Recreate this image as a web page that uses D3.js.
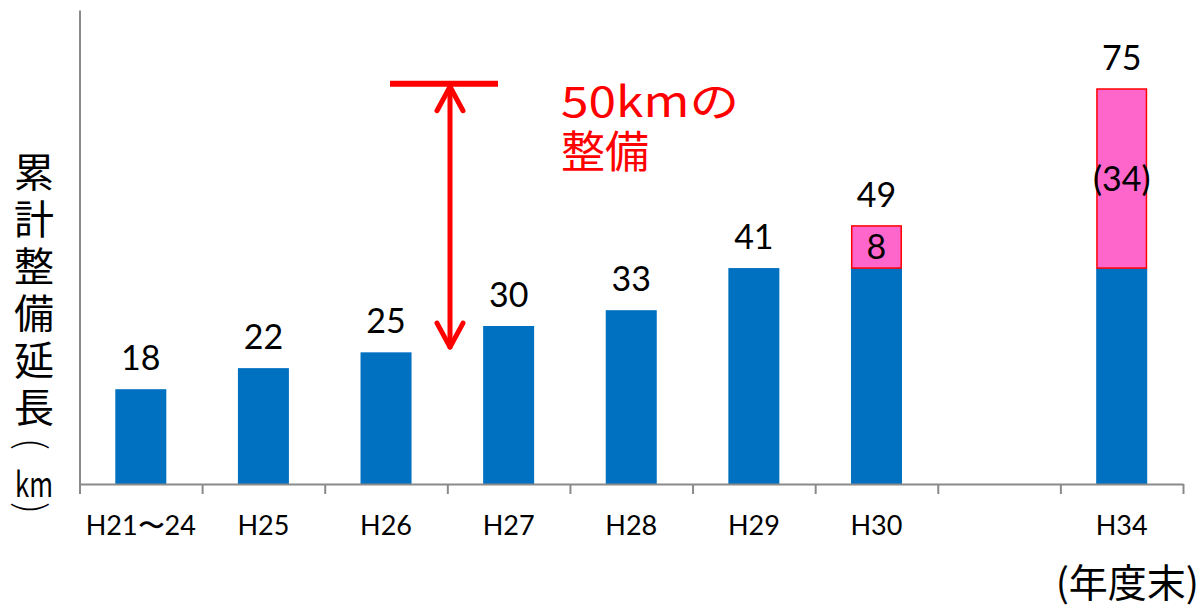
<!DOCTYPE html>
<html>
<head>
<meta charset="utf-8">
<script src="https://cdn.jsdelivr.net/npm/d3@7"></script>
<style>
  html, body { margin: 0; padding: 0; background: #fff; }
  svg { display: block; }
  .num { font-family: Lato, "Noto Sans", sans-serif; fill: #000; }
  .jp { font-family: "Noto Sans CJK JP", sans-serif; }
  .vert { writing-mode: vertical-rl; text-orientation: upright; letter-spacing: 7px; }
</style>
</head>
<body>
<svg id="chart" width="1200" height="608"></svg>
<script>
// Cumulative length of the developed network (km) by fiscal year end
const categories = ["H21〜24", "H25", "H26", "H27", "H28", "H29", "H30", "", "H34"];
const builtKm    = [18, 22, 25, 30, 33, 41, 41, null, 41];
const plannedKm  = [0, 0, 0, 0, 0, 0, 8, null, 34];
const totalLabels   = ["18", "22", "25", "30", "33", "41", "49", "", "75"];
const plannedLabels = ["", "", "", "", "", "", "8", "", "(34)"];
const yMax = 90;

// Annotation: span of the planned 50 km of development
const spanFrom = 26, spanTo = 76;
const spanText = ["50kmの", "整備"];

const yTitleText = "累計整備延長";
const yTitleUnit = "km";
const xTitle = "(年度末)";

const svg = d3.select("#chart");
const plotLeft = 79.5, plotRight = 1183, plotBottom = 484, plotTop = 10;

const x = d3.scaleBand().domain(categories).range([plotLeft, plotRight])
  .paddingInner(0.584).paddingOuter(0.292);
const slot = d3.scaleLinear().domain([0, categories.length]).range([plotLeft, plotRight]);
const y = d3.scaleLinear().domain([0, yMax]).range([plotBottom, plotTop]);

const rows = categories.map((c, i) => ({
  c, built: builtKm[i], planned: plannedKm[i],
  total: totalLabels[i], plannedLabel: plannedLabels[i]
})).filter(d => d.built != null);

// Blue bars: developed length
svg.append("g").selectAll("rect").data(rows).join("rect")
  .attr("x", d => x(d.c)).attr("width", x.bandwidth())
  .attr("y", d => y(d.built)).attr("height", d => y(0) - y(d.built))
  .attr("fill", "#0070C0");

// Pink segments: planned additions
svg.append("g").selectAll("rect").data(rows.filter(d => d.planned > 0)).join("rect")
  .attr("x", d => x(d.c) + 0.75).attr("width", x.bandwidth() - 1.5)
  .attr("y", d => y(d.built + d.planned)).attr("height", d => y(d.built) - y(d.built + d.planned))
  .attr("fill", "#FF66CC").attr("stroke", "#FF0000").attr("stroke-width", 1.5);

// Labels inside the planned segments
svg.append("g").selectAll("text").data(rows.filter(d => d.planned > 0)).join("text")
  .attr("class", "num")
  .attr("x", d => x(d.c) + x.bandwidth() / 2)
  .attr("y", d => (y(d.built) + y(d.built + d.planned)) / 2 + 12)
  .attr("text-anchor", "middle").attr("font-size", 34)
  .text(d => d.plannedLabel);

// Total labels above the bars
svg.append("g").selectAll("text").data(rows).join("text")
  .attr("class", "num")
  .attr("x", d => x(d.c) + x.bandwidth() / 2)
  .attr("y", d => y(d.built + d.planned) - 19)
  .attr("text-anchor", "middle").attr("font-size", 34)
  .text(d => d.total);

// Axes
const xAxis = svg.append("g").attr("transform", `translate(0,${plotBottom})`)
  .call(d3.axisBottom(slot).tickValues(d3.range(categories.length + 1))
    .tickFormat("").tickSize(10).tickSizeOuter(0));
xAxis.selectAll("path, line").attr("stroke", "#8A8A8A").attr("stroke-width", 2);

const yAxis = svg.append("g").attr("transform", `translate(${plotLeft},0)`)
  .call(d3.axisLeft(y).tickValues([]).tickSizeOuter(0));
yAxis.select("path").attr("stroke", "#8A8A8A").attr("stroke-width", 2);

// Category labels
svg.append("g").selectAll("text").data(categories).join("text")
  .attr("class", "num")
  .attr("x", d => x(d) + x.bandwidth() / 2)
  .attr("y", 535)
  .attr("text-anchor", "middle").attr("font-size", 27)
  .text(d => d);

// Span annotation: cap line and double-headed arrow
const ax = 450;
const ann = svg.append("g").attr("stroke", "#FF0000").attr("fill", "none")
  .attr("stroke-linecap", "round").attr("stroke-linejoin", "round");
ann.append("line")
  .attr("x1", 390).attr("x2", 498)
  .attr("y1", y(spanTo)).attr("y2", y(spanTo))
  .attr("stroke-width", 6).attr("stroke-linecap", "butt");
const tipTop = y(spanTo) + 3, tipBot = y(spanFrom);
ann.append("line").attr("x1", ax).attr("x2", ax).attr("y1", tipTop).attr("y2", tipBot)
  .attr("stroke-width", 5);
ann.append("path").attr("d", `M${ax - 13},${tipTop + 24} L${ax},${tipTop} L${ax + 13},${tipTop + 24}`)
  .attr("stroke-width", 5);
ann.append("path").attr("d", `M${ax - 13},${tipBot - 24} L${ax},${tipBot} L${ax + 13},${tipBot - 24}`)
  .attr("stroke-width", 5);

const note = svg.append("text").attr("class", "jp").attr("fill", "#FF0000");
note.append("tspan")
  .attr("x", 561).attr("y", 117).attr("font-size", 42)
  .attr("textLength", 178).attr("lengthAdjust", "spacingAndGlyphs")
  .text(spanText[0]);
note.append("tspan")
  .attr("x", 561).attr("y", 168).attr("font-size", 44)
  .text(spanText[1]);

// Vertical y-axis title, set in vertical writing mode, then the unit in rotated brackets
const tx = 34, titleTop = 152;
const ty = svg.append("g").attr("class", "jp").attr("fill", "#000");
ty.append("text").attr("class", "vert")
  .attr("x", tx).attr("y", titleTop)
  .attr("font-size", 40)
  .text(yTitleText);
const unitBase = 497;
ty.append("text")
  .attr("x", tx).attr("y", unitBase)
  .attr("text-anchor", "middle")
  .attr("font-size", 34)
  .attr("textLength", 38).attr("lengthAdjust", "spacingAndGlyphs")
  .text(yTitleUnit);
ty.append("text")
  .attr("transform", `translate(${tx},${unitBase - 53}) rotate(90)`)
  .attr("text-anchor", "middle").attr("dominant-baseline", "central")
  .attr("font-size", 38).attr("font-weight", 300)
  .text("(");
ty.append("text")
  .attr("transform", `translate(${tx},${unitBase + 11}) rotate(90)`)
  .attr("text-anchor", "middle").attr("dominant-baseline", "central")
  .attr("font-size", 38).attr("font-weight", 300)
  .text(")");

// x-axis title
svg.append("text").attr("class", "jp")
  .attr("x", 1199).attr("y", 597).attr("text-anchor", "end")
  .attr("font-size", 39).attr("fill", "#000")
  .text(xTitle);
</script>
</body>
</html>
